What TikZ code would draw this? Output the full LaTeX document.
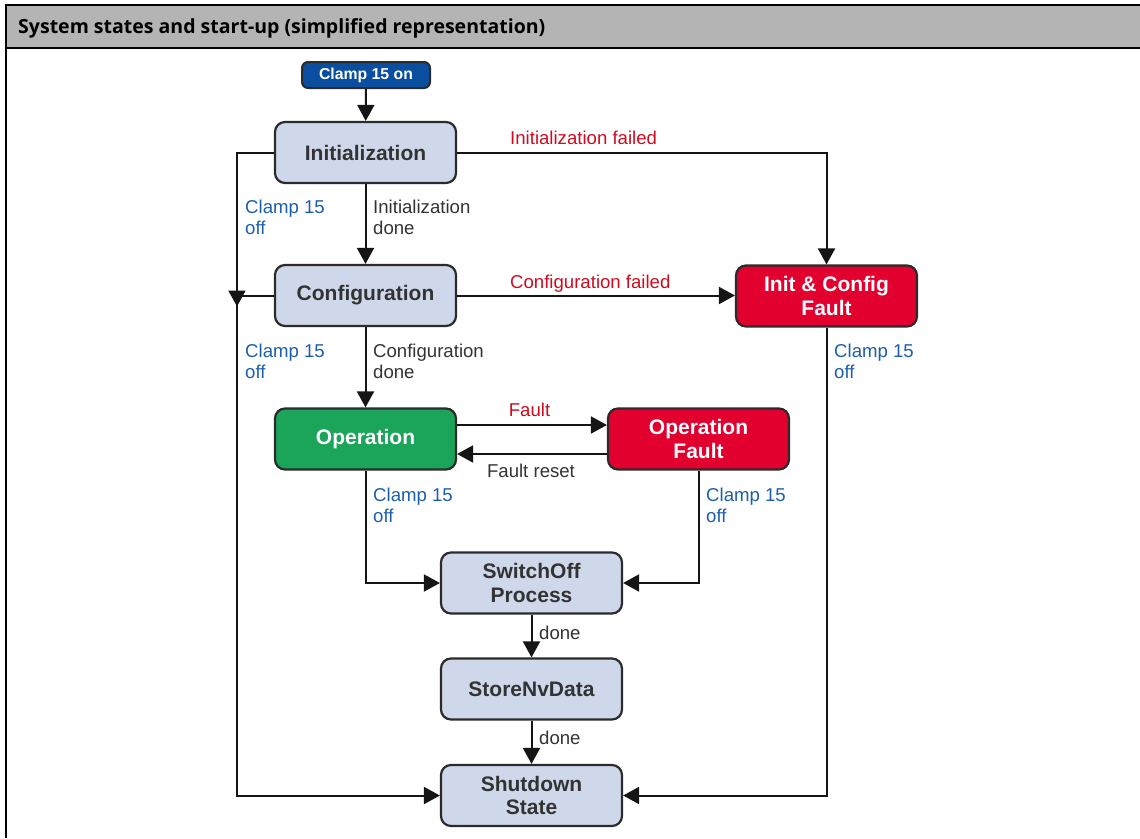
\documentclass[tikz,border=0pt]{standalone}
\usepackage{fontspec}
\setmainfont{Liberation Sans}
\newfontfamily\titlefont{Open Sans}
\usetikzlibrary{arrows.meta}
\definecolor{titlegray}{HTML}{B4B4B4}
\definecolor{boxfill}{HTML}{CFD8EA}
\definecolor{boxborder}{HTML}{2B2B2B}
\definecolor{darktext}{HTML}{333333}
\definecolor{linecol}{HTML}{151515}
\definecolor{clampblue}{HTML}{0A4EA0}
\definecolor{opgreen}{HTML}{1AA55A}
\definecolor{faultred}{HTML}{E2002F}
\definecolor{labblue}{HTML}{1C5EAA}
\definecolor{labred}{HTML}{D00A1E}
\begin{document}
\begin{tikzpicture}[x=1pt,y=-1pt,
  state/.style={draw=boxborder, line width=2.2pt, rounded corners=10pt,
    minimum width=181pt, minimum height=61pt, fill=boxfill, text=darktext,
    font=\fontsize{21}{23.5}\selectfont\bfseries, align=center, inner sep=0pt},
  faultbox/.style={state, fill=faultred, text=white},
  startbox/.style={draw=boxborder, line width=2pt, rounded corners=6pt,
    minimum width=128pt, minimum height=26pt, fill=clampblue, text=white,
    font=\fontsize{15.8}{18}\selectfont\bfseries, inner sep=0pt},
  lbl/.style={font=\fontsize{18.6}{21}\selectfont, inner sep=0pt, align=left, text=darktext},
  offlbl/.style={lbl, text=labblue},
  faillbl/.style={lbl, text=labred},
  conn/.style={line width=2pt, draw=linecol},
  arr/.style={conn, -{Triangle[length=16pt,width=17pt]}}
]
\useasboundingbox (0,0) rectangle (1140,838);

% header bar and frame
\fill[titlegray] (6,5) rectangle (1140,48);
\draw[line width=2.5pt] (6,5) -- (1140,5);
\draw[line width=2.5pt] (6,48) -- (1140,48);
\draw[line width=2.5pt] (6,4) -- (6,838);
\node[anchor=base west, inner sep=0pt] (title) at (18,33.5)
  {\resizebox{527pt}{!}{\titlefont\bfseries System states and start-up (simplified representation)}};

% states
\node[startbox] (on) at (366,75) {Clamp 15 on};
\node[state] (init) at (365.5,152.5) {Initialization};
\node[state] (conf) at (365.5,295.5) {Configuration};
\node[state, fill=opgreen, text=white] (op) at (365.5,439) {Operation};
\node[faultbox] (opf) at (698.5,439) {Operation\\Fault};
\node[faultbox] (icf) at (826.5,296) {Init \& Config\\Fault};
\node[state] (sw) at (531.5,583) {SwitchOff\\Process};
\node[state] (nv) at (531.5,689) {StoreNvData};
\node[state] (sd) at (531.5,795.5) {Shutdown\\State};

% main sequence
\draw[arr] (on) -- (init);
\draw[arr] (init) -- (conf);
\draw[arr] (conf) -- (op);
\draw[arr] (sw) -- (nv);
\draw[arr] (nv) -- (sd);

% failures during start-up
\draw[arr] (init.east) -| (icf.north);
\draw[arr] (conf.east) -- (conf.east -| icf.west);

% fault / fault reset
\coordinate (f1) at ([yshift=14pt]op.east);
\coordinate (f2) at ([yshift=-15pt]op.east);
\draw[arr] (f1) -- (f1 -| opf.west);
\draw[arr] (f2 -| opf.west) -- (f2);

% clamp 15 off paths
\coordinate (lx) at (237,152.5);
\draw[arr] (init.west) -- (lx) |- (sd.west);
\coordinate (cj) at (conf.west -| lx);
\draw[conn] (conf.west) -- (cj);
\draw[arr] (cj) -- ++(0,11);
\draw[arr] (op.south) |- (sw.west);
\draw[arr] (opf.south) |- (sw.east);
\draw[arr] (icf.south) |- (sd.east);

% labels
\node[faillbl, anchor=base west] (linitf) at (510,144.7) {Initialization failed};
\node[faillbl, anchor=base west] (lconff) at (510,288.7) {Configuration failed};
\node[faillbl, anchor=base] (lfault) at (529.5,416.7) {Fault};
\node[lbl, anchor=base] (lreset) at (531,477.7) {Fault reset};
\node[lbl, anchor=north west] (linitd) at (373,200) {Initialization\\done};
\node[lbl, anchor=north west] (lconfd) at (373,344) {Configuration\\done};
\node[offlbl, anchor=north west] (loff1) at (245,200) {Clamp 15\\off};
\node[offlbl, anchor=north west] (loff2) at (245,344) {Clamp 15\\off};
\node[offlbl, anchor=north west] (loff3) at (373,488) {Clamp 15\\off};
\node[offlbl, anchor=north west] (loff4) at (706,488) {Clamp 15\\off};
\node[offlbl, anchor=north west] (loff5) at (834,344) {Clamp 15\\off};
\node[lbl, anchor=base west] (ldone1) at (539,639) {done};
\node[lbl, anchor=base west] (ldone2) at (539,744) {done};
\end{tikzpicture}
\end{document}
